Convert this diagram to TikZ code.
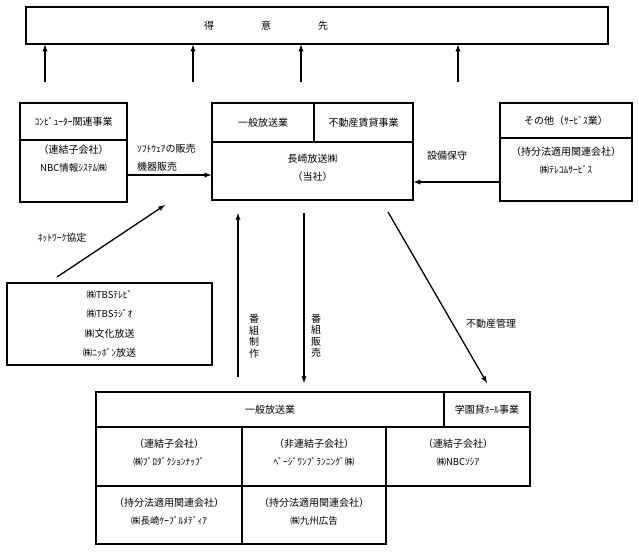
\documentclass[tikz,border=0pt]{standalone}
\usepackage{fontspec}
\setmainfont{Noto Sans CJK JP}
\usetikzlibrary{positioning}
\newcommand{\hwtext}[1]{{\fontsize{9.5}{18}\selectfont #1}}

\begin{document}
\begin{tikzpicture}[x=1pt,y=1pt,
    box/.style = {rectangle, draw=black, line width=1.2pt, inner sep=0pt},
    txt/.style = {align=center, inner sep=0pt, font=\fontsize{10}{18}\selectfont},
    vtxt/.style = {align=center, inner sep=0pt, font=\fontsize{10}{11.5}\selectfont},
    arr/.style = {-latex, line width=1.3pt}]
     \useasboundingbox (0,0) rectangle (639,-552);

     % customers
     \node[box, minimum width=582pt, minimum height=37pt] (client) at (317,-25.5) {};
     \node[txt] (clienttxt) at (266,-25.5) {得\hspace{47pt}意\hspace{47pt}先};

     % computer business
     \node[box, txt, minimum width=107pt, minimum height=37pt] (comphead) at (73.5,-121.5) {\hwtext{ｺﾝﾋﾟｭｰﾀｰ}関連事業};
     \node[box, minimum width=107pt, minimum height=62pt] (compbody) at (73.5,-171) {};
     \node[txt] (comptxt) at ([yshift=12pt]compbody.center) {（連結子会社）\\ \hwtext{NBC情報ｼｽﾃﾑ㈱}};

     % this company
     \node[box, txt, minimum width=102pt, minimum height=39pt] (mainleft) at (263,-122.5) {一般放送業};
     \node[box, txt, minimum width=99pt, minimum height=39pt] (mainright) at (363.5,-122.5) {不動産賃貸事業};
     \node[box, minimum width=201pt, minimum height=58pt] (mainbody) at (312.5,-171) {};
     \node[txt] (maintxt) at ([yshift=3.5pt]mainbody.center) {長崎放送㈱\\ （当社）};

     % other services
     \node[box, txt, minimum width=132pt, minimum height=35pt] (othhead) at (566,-120.5) {その他（\hwtext{ｻｰﾋﾞｽ}業）};
     \node[box, minimum width=132pt, minimum height=63pt] (othbody) at (566,-169.5) {};
     \node[txt] (othtxt) at ([yshift=9pt]othbody.center) {（持分法適用関連会社）\\ \hwtext{㈱ﾃﾚｺﾑｻｰﾋﾞｽ}};

     % network partners
     \node[box, minimum width=205pt, minimum height=82pt] (net) at (109.5,-324) {};
     \node[txt, font=\fontsize{10}{19.5}\selectfont] (nettxt) at (net.center) {\hwtext{㈱TBSﾃﾚﾋﾞ}\\ \hwtext{㈱TBSﾗｼﾞｵ}\\ ㈱文化放送\\ \hwtext{㈱ﾆｯﾎﾟﾝ}放送};

     % group companies
     \node[box, txt, minimum width=348pt, minimum height=35pt] (grphead) at (270,-409.5) {一般放送業};
     \node[box, txt, minimum width=86pt, minimum height=35pt] (hallhead) at (487,-409.5) {学園貸\hwtext{ﾎｰﾙ}事業};
     \node[box, minimum width=146pt, minimum height=59pt] (cellA) at (169,-456.5) {};
     \node[box, minimum width=144pt, minimum height=59pt] (cellB) at (314,-456.5) {};
     \node[box, minimum width=144pt, minimum height=59pt] (cellC) at (458,-456.5) {};
     \node[box, minimum width=146pt, minimum height=58pt] (cellD) at (169,-515) {};
     \node[box, minimum width=144pt, minimum height=58pt] (cellE) at (314,-515) {};
     \node[txt] (txtA) at ([yshift=4pt]cellA.center) {（連結子会社）\\ \hwtext{㈱ﾌﾟﾛﾀﾞｸｼｮﾝﾅｯﾌﾟ}};
     \node[txt] (txtB) at ([yshift=4pt]cellB.center) {（非連結子会社）\\ \hwtext{ﾍﾟｰｼﾞﾜﾝﾌﾟﾗﾝﾆﾝｸﾞ㈱}};
     \node[txt] (txtC) at ([yshift=4pt]cellC.center) {（連結子会社）\\ \hwtext{㈱NBCｿｼｱ}};
     \node[txt] (txtD) at ([yshift=3pt]cellD.center) {（持分法適用関連会社）\\ \hwtext{㈱長崎ｹｰﾌﾞﾙﾒﾃﾞｨｱ}};
     \node[txt] (txtE) at ([yshift=3pt]cellE.center) {（持分法適用関連会社）\\ \hwtext{㈱九州広告}};

     % arrows to customers
     \coordinate (up1) at (45,-82);
     \coordinate (up2) at (193,-82);
     \coordinate (up3) at (301,-82);
     \coordinate (up4) at (458,-82);
     \draw[arr] (up1) -- (up1 |- client.south);
     \draw[arr] (up2) -- (up2 |- client.south);
     \draw[arr] (up3) -- (up3 |- client.south);
     \draw[arr] (up4) -- (up4 |- client.south);

     % side arrows
     \draw[arr] ([yshift=-4pt]compbody.east) -- ([yshift=-4pt]compbody.east -| mainbody.west);
     \node[txt, align=left, anchor=west] (saleslbl) at (137,-157.5) {\hwtext{ｿﾌﾄｳｪｱ}の販売\\ 機器販売};
     \draw[arr] ([yshift=-12.5pt]othbody.west) -- ([yshift=-12.5pt]othbody.west -| mainbody.east);
     \node[txt] (maintlbl) at (447,-156) {設備保守};

     % network agreement
     \coordinate (netfrom) at (57,-277);
     \coordinate (netto) at (165,-205);
     \draw[arr] (netfrom) -- (netto);
     \node[txt] (netlbl) at (62,-238) {\hwtext{ﾈｯﾄﾜｰｸ}協定};

     % program flows
     \coordinate (prodfrom) at (238,-377);
     \coordinate (prodto) at (238,-213);
     \draw[arr] (prodfrom) -- (prodto);
     \node[vtxt] (prodlbl) at (254,-336) {番\\組\\制\\作};
     \coordinate (sellfrom) at (304,-213);
     \coordinate (sellto) at (304,-383);
     \draw[arr] (sellfrom) -- (sellto);
     \node[vtxt] (selllbl) at (316,-336) {番\\組\\販\\売};

     % property management
     \coordinate (propfrom) at (388,-212);
     \coordinate (propto) at (487,-383);
     \draw[arr] (propfrom) -- (propto);
     \node[txt] (proplbl) at (491,-324) {不動産管理};
\end{tikzpicture}
\end{document}
